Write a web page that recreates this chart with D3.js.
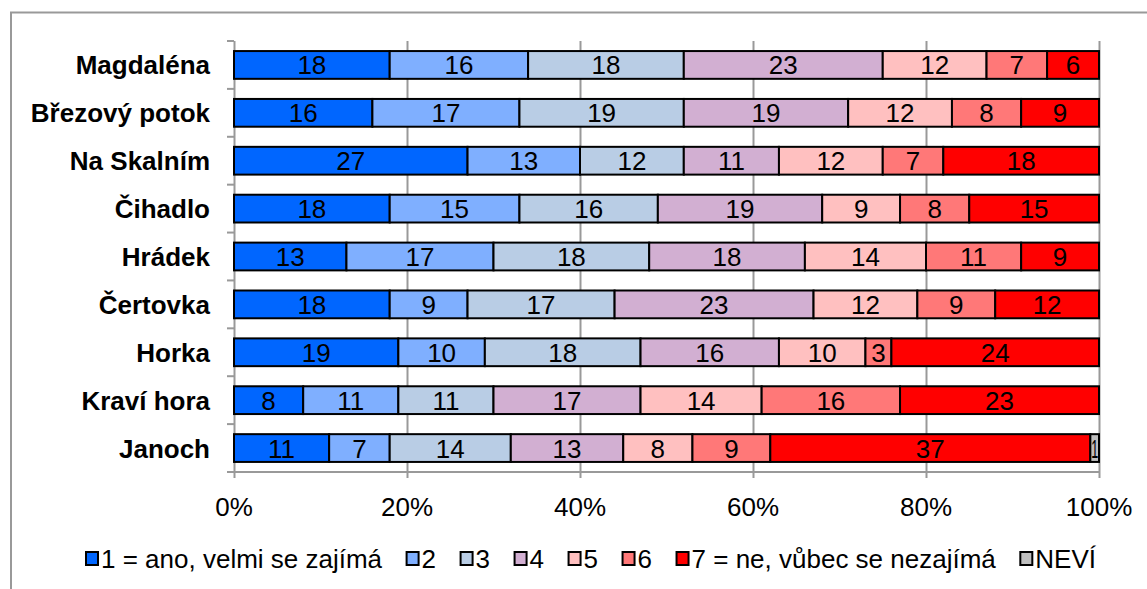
<!DOCTYPE html>
<html><head><meta charset="utf-8">
<script src="https://cdn.jsdelivr.net/npm/d3@7"></script>
<style>body{margin:0;background:#fff;}svg{display:block;font-family:"Liberation Sans",Arial,sans-serif;}</style>
</head><body>
<svg id="chart" width="1147" height="589"></svg>
<script>
const categories = ["Magdaléna","Březový potok","Na Skalním","Čihadlo","Hrádek","Čertovka","Horka","Kraví hora","Janoch"];
const seriesNames = ["1 = ano, velmi se zajímá","2","3","4","5","6","7 = ne, vůbec se nezajímá","NEVÍ"];
const s1 = [18,16,27,18,13,18,19,8,11];
const s2 = [16,17,13,15,17,9,10,11,7];
const s3 = [18,19,12,16,18,17,18,11,14];
const s4 = [23,19,11,19,18,23,16,17,13];
const s5 = [12,12,12,9,14,12,10,14,8];
const s6 = [7,8,7,8,11,9,3,16,9];
const s7 = [6,9,18,15,9,12,24,23,37];
const sNevi = [0,0,0,0,0,0,0,0,1];
const tickValues = [0,0.2,0.4,0.6,0.8,1.0];
const colors = ["#0066FF","#7FAFFF","#B9CDE5","#D2AFD2","#FFC0C0","#FF7878","#FF0000","#BFBFBF"];

const seriesValues = [s1,s2,s3,s4,s5,s6,s7,sNevi];
const rows = categories.map((c,i)=>{const r={cat:c}; seriesNames.forEach((s,j)=>r[s]=seriesValues[j][i]); return r;});
const stack = d3.stack().keys(seriesNames).offset(d3.stackOffsetExpand)(rows);

const FS = 26;
const svg = d3.select("#chart");
// frame
svg.append("path").attr("d","M11,589 V12.5 H1147").attr("fill","none").attr("stroke","#999").attr("stroke-width",2);

const x0=234, x1=1099, y0=41, y1=472;
const x = d3.scaleLinear().domain([0,1]).range([x0,x1]);
const y = d3.scaleBand().domain(categories).range([y0,y1]).paddingInner(0.42).paddingOuter(0.21);

// gridlines
svg.append("g").selectAll("line").data(tickValues).join("line")
  .attr("x1",d=>x(d)+0.5).attr("x2",d=>x(d)+0.5).attr("y1",y0).attr("y2",y1+6)
  .attr("stroke","#999").attr("stroke-width",2);
// left axis ticks
const cats = d3.range(categories.length+1);
svg.append("g").selectAll("line").data(cats).join("line")
  .attr("x1",x0-7).attr("x2",x0).attr("y1",i=>y0+i*(y1-y0)/categories.length).attr("y2",i=>y0+i*(y1-y0)/categories.length)
  .attr("stroke","#999").attr("stroke-width",2);
svg.append("line").attr("x1",x0).attr("x2",x1).attr("y1",y1).attr("y2",y1).attr("stroke","#999").attr("stroke-width",2);

// bars
const g = svg.append("g");
stack.forEach((layer,j)=>{
  layer.forEach((d,i)=>{
    const w = x(d[1])-x(d[0]);
    if (w<=0) return;
    g.append("rect").attr("x",x(d[0])).attr("y",y(categories[i])).attr("width",w).attr("height",y.bandwidth())
      .attr("fill",colors[j]).attr("stroke","#000").attr("stroke-width",2);
  });
});
stack.forEach((layer,j)=>{
  layer.forEach((d,i)=>{
    const v = seriesValues[j][i];
    if (!v) return;
    const t = g.append("text").attr("x",(x(d[0])+x(d[1]))/2).attr("y",y(categories[i])+y.bandwidth()/2+9.5)
      .attr("text-anchor","middle").attr("font-size",FS).attr("fill","#000").text(v);
    if (v===1) t.attr("textLength",7).attr("lengthAdjust","spacingAndGlyphs");
  });
});

// category labels
svg.append("g").selectAll("text").data(categories).join("text")
  .attr("x",210).attr("y",c=>y(c)+y.bandwidth()/2+9.5).attr("text-anchor","end")
  .attr("font-size",FS).attr("font-weight","bold").attr("fill","#000").text(c=>c);

// x tick labels
svg.append("g").selectAll("text").data(tickValues).join("text")
  .attr("x",d=>x(d)).attr("y",516).attr("text-anchor","middle").attr("font-size",FS).attr("fill","#000")
  .text(d=>d3.format(".0%")(d));

// legend
const lg = svg.append("g");
const its = seriesNames.map((s,j)=>{
  const it = lg.append("g");
  it.append("rect").attr("x",0).attr("y",-7).attr("width",12).attr("height",13).attr("fill",colors[j]).attr("stroke","#000").attr("stroke-width",2);
  const t = it.append("text").attr("x",15).attr("y",9).attr("font-size",FS).attr("fill","#000").text(s);
  return {it, w: 15 + t.node().getComputedTextLength()};
});
const sumW = d3.sum(its, d=>d.w);
const gap = Math.max(6, (1096-86 - sumW)/(its.length-1));
let cx = 0;
its.forEach(d=>{ d.it.attr("transform",`translate(${cx},0)`); cx += d.w + gap; });
const total = cx - gap;
lg.attr("transform",`translate(${(86+1096)/2 - total/2},559)`);
</script>
</body></html>
